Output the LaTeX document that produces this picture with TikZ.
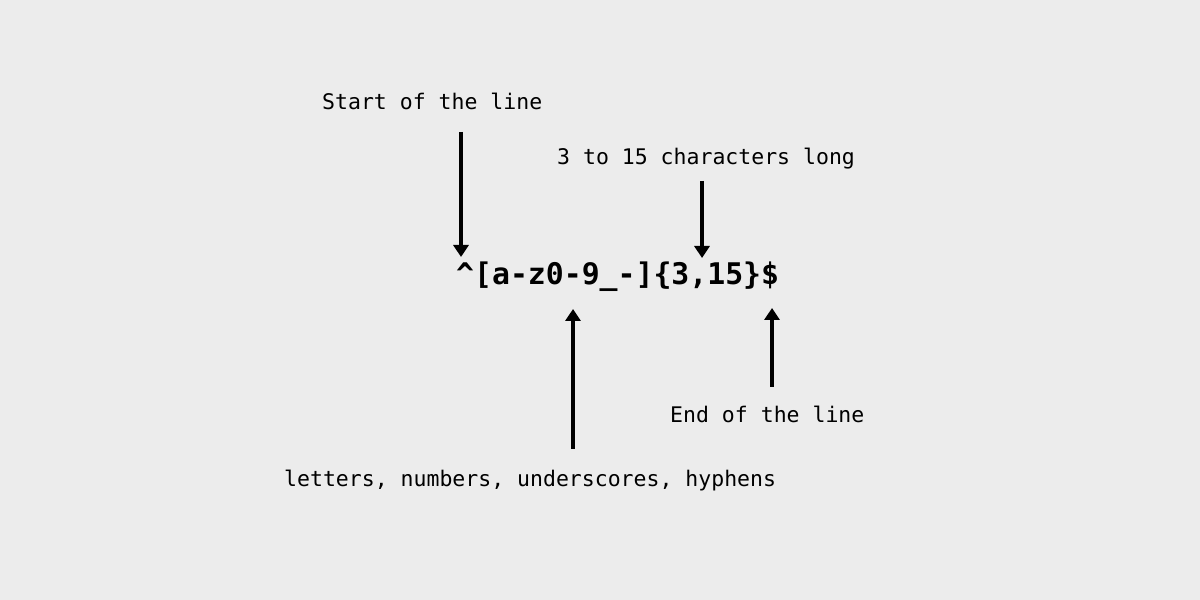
\documentclass[tikz,border=0pt]{standalone}
\usepackage{fontspec}
\setmonofont{DejaVu Sans Mono}
\usetikzlibrary{arrows.meta}
\definecolor{bggray}{HTML}{ECECEC}
\tikzset{
  note/.style={anchor=base west, inner sep=0pt, font=\ttfamily\fontsize{21.5}{24}\selectfont},
  pointer/.style={-{Triangle[width=15pt,length=12pt]}, line width=3.5pt},
}
\begin{document}
\begin{tikzpicture}[x=1pt,y=1pt]
    \fill[bggray] (0,0) rectangle (1200,600);
    \useasboundingbox (0,0) rectangle (1200,600);

    \node [anchor=base west, inner sep=0pt, font=\ttfamily\bfseries\fontsize{29.8}{32}\selectfont] (regex) at (456,315) {\^{}[a-z0-9\_-]\{3,15\}\$};

    \node [note] (start) at (322,490) {Start of the line};
    \node [note] (count) at (557,435) {3 to 15 characters long};
    \node [note] (finish) at (670,177) {End of the line};
    \node [note] (chars) at (284,113) {letters, numbers, underscores, hyphens};

    \coordinate (S1) at (461,468);
    \coordinate (S2) at (461,343);
    \coordinate (C1) at (702,419);
    \coordinate (C2) at (702,342);
    \coordinate (L1) at (573,151);
    \coordinate (L2) at (573,291);
    \coordinate (E1) at (772,213);
    \coordinate (E2) at (772,292);

    \draw[pointer] (S1) -- (S2);
    \draw[pointer] (C1) -- (C2);
    \draw[pointer] (L1) -- (L2);
    \draw[pointer] (E1) -- (E2);
\end{tikzpicture}
\end{document}
